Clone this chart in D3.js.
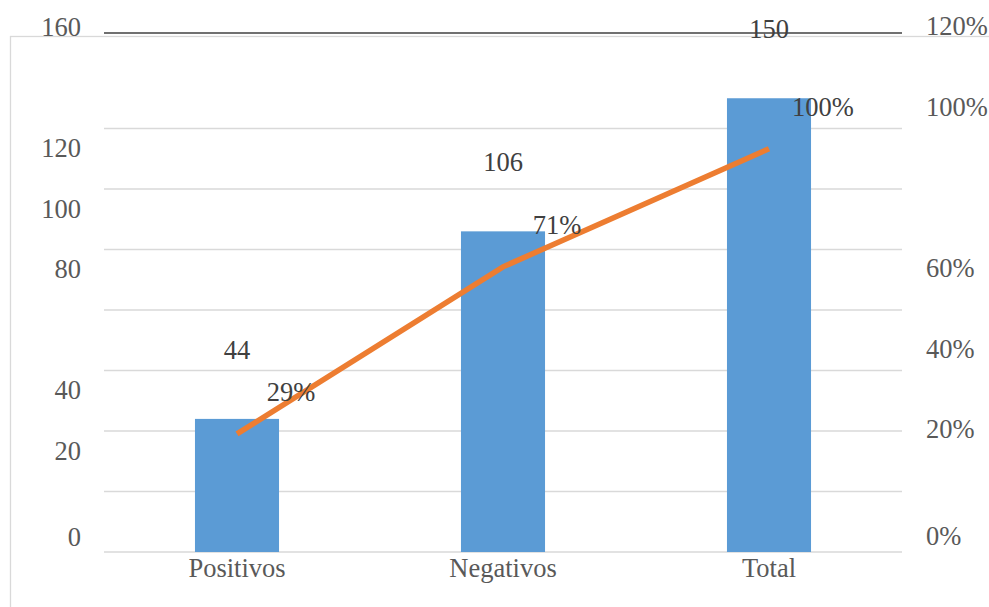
<!DOCTYPE html>
<html>
<head>
<meta charset="utf-8">
<script src="https://cdn.jsdelivr.net/npm/d3@7/dist/d3.min.js"></script>
<style>
  html, body { margin: 0; padding: 0; background: #fff; }
  svg { display: block; }
</style>
</head>
<body>
<svg id="chart" width="989" height="607"></svg>
<script>
// Results by category: counts (bars) and share of the total (line)
const categories = ["Positivos", "Negativos", "Total"];
const counts = [44, 106, 150];
const shares = [0.293, 0.707, 1.0];
const shareLabels = ["29%", "71%", "100%"];
const countTicks = [0, 20, 40, 80, 100, 120, 160];
const gridTicks = [0, 20, 40, 60, 80, 100, 120, 140];
const shareTicks = [0, 0.2, 0.4, 0.6, 1.0, 1.2];

const FONT = "'Liberation Serif', 'Times New Roman', 'DejaVu Serif', serif";
const FS = 26.5;

const svg = d3.select("#chart").attr("font-family", FONT);
const W = 989, H = 607;
const plot = { left: 104, right: 902, top: 68, bottom: 552 };

const x = d3.scaleBand().domain(categories).range([plot.left, plot.right])
  .paddingInner(0.684).paddingOuter(0.342);
const y = d3.scaleLinear().domain([0, 160]).range([plot.bottom, plot.top]);
const y2 = d3.scaleLinear().domain([0, 1.2]).range([plot.bottom, plot.top]);

// outer chart frame
svg.append("rect")
  .attr("x", 10.5).attr("y", 36.5)
  .attr("width", W + 20).attr("height", H)
  .attr("fill", "none").attr("stroke", "#d9d9d9").attr("stroke-width", 1.3);

// horizontal gridlines
svg.append("g").selectAll("line").data(gridTicks).join("line")
  .attr("x1", plot.left).attr("x2", plot.right)
  .attr("y1", d => y(d)).attr("y2", d => y(d))
  .attr("stroke", "#d9d9d9").attr("stroke-width", 1.4);

// top rule
svg.append("line")
  .attr("x1", plot.left).attr("x2", plot.right)
  .attr("y1", 33).attr("y2", 33)
  .attr("stroke", "#404040").attr("stroke-width", 1.6);

// bars
svg.append("g").selectAll("rect").data(categories).join("rect")
  .attr("x", d => x(d))
  .attr("width", x.bandwidth())
  .attr("y", (d, i) => y(counts[i]))
  .attr("height", (d, i) => y(0) - y(counts[i]))
  .attr("fill", "#5b9bd5");

// share line
const cx = d => x(d) + x.bandwidth() / 2;
svg.append("path")
  .datum(categories)
  .attr("d", d3.line().x(d => cx(d)).y((d, i) => y2(shares[i])))
  .attr("fill", "none").attr("stroke", "#ed7d31")
  .attr("stroke-width", 5.5);

// left axis labels (sit above their gridlines; zero just above the baseline)
svg.append("g").selectAll("text").data(countTicks).join("text")
  .attr("x", 81)
  .attr("y", d => d === 0 ? y(d) - 6 : y(d) - 32)
  .attr("text-anchor", "end")
  .attr("font-family", FONT)
  .attr("font-size", FS).attr("fill", "#595959")
  .text(d => d);

// right axis labels
svg.append("g").selectAll("text").data(shareTicks).join("text")
  .attr("x", 926)
  .attr("y", d => d === 0 ? y2(d) - 7 : y2(d) - 33)
  .attr("text-anchor", "start")
  .attr("font-family", FONT)
  .attr("font-size", FS).attr("fill", "#595959")
  .text(d => Math.round(d * 100) + "%");

// category labels
svg.append("g").selectAll("text").data(categories).join("text")
  .attr("x", d => cx(d))
  .attr("y", 577)
  .attr("text-anchor", "middle")
  .attr("font-family", FONT)
  .attr("font-size", FS).attr("fill", "#595959")
  .text(d => d);

// count labels above bars
svg.append("g").selectAll("text").data(categories).join("text")
  .attr("x", d => cx(d))
  .attr("y", (d, i) => y(counts[i]) - 60)
  .attr("text-anchor", "middle")
  .attr("font-family", FONT)
  .attr("font-size", FS).attr("fill", "#404040")
  .text((d, i) => counts[i]);

// share labels near line points
svg.append("g").selectAll("text").data(categories).join("text")
  .attr("x", d => cx(d) + 54)
  .attr("y", (d, i) => y2(shares[i]) - 33)
  .attr("text-anchor", "middle")
  .attr("font-family", FONT)
  .attr("font-size", FS).attr("fill", "#404040")
  .text((d, i) => shareLabels[i]);
</script>
</body>
</html>
